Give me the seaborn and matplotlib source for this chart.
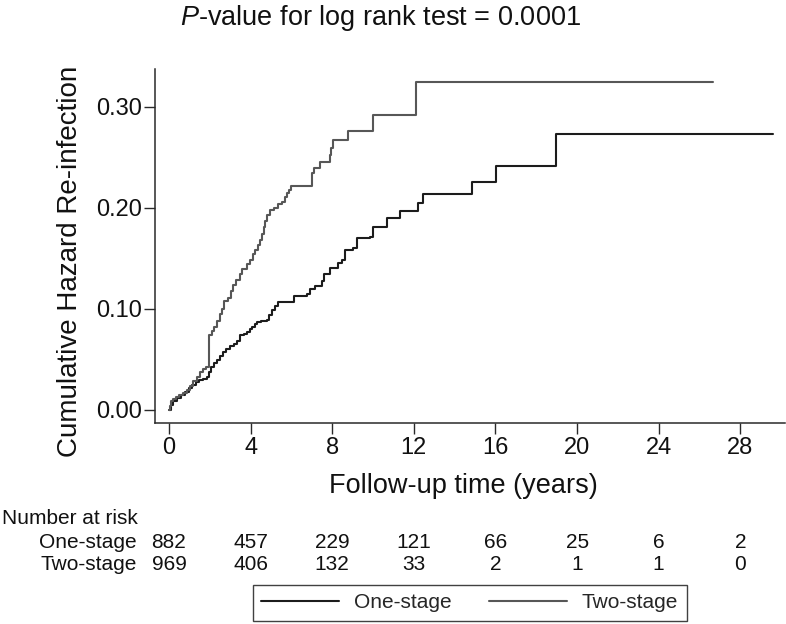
import numpy as np
import pandas as pd
import matplotlib
matplotlib.use("Agg")
import matplotlib.pyplot as plt
import matplotlib.transforms as mtransforms
from matplotlib.lines import Line2D
import seaborn as sns

# ---------------- data ----------------
one_t = [0.0, 0.08, 0.2, 0.4, 0.6, 0.8, 1.0, 1.15, 1.3, 1.45, 1.65, 1.85, 1.95,
         2.05, 2.2, 2.35, 2.5, 2.65, 2.8, 3.0, 3.2, 3.35, 3.48, 3.7, 3.8, 3.95,
         4.05, 4.2, 4.3, 4.5, 4.79, 4.9, 5.03, 5.2, 5.36, 6.14, 6.75, 6.9, 7.16,
         7.5, 7.6, 7.9, 8.3, 8.47, 8.63, 9.03, 9.2, 9.85, 9.98, 10.67, 11.32,
         12.22, 12.47, 14.84, 16.01, 18.96, 29.6]
one_h = [0.000, 0.005, 0.009, 0.012, 0.015, 0.018, 0.022, 0.025, 0.028, 0.030,
         0.031, 0.033, 0.038, 0.043, 0.046, 0.049, 0.053, 0.057, 0.060, 0.063,
         0.065, 0.068, 0.074, 0.075, 0.077, 0.080, 0.082, 0.085, 0.087, 0.088,
         0.089, 0.094, 0.099, 0.103, 0.107, 0.1126, 0.115, 0.120, 0.123, 0.128,
         0.135, 0.140, 0.145, 0.148, 0.158, 0.160, 0.170, 0.171, 0.181, 0.1896,
         0.1968, 0.2044, 0.2134, 0.2256, 0.241, 0.2734, 0.2734]

two_t = [0.0, 0.05, 0.10, 0.2, 0.35, 0.5, 0.7, 0.9, 1.05, 1.2, 1.35, 1.5, 1.65,
         1.8, 1.98, 2.1, 2.2, 2.35, 2.5, 2.6, 2.7, 2.9, 3.05, 3.15, 3.3, 3.48,
         3.6, 3.8, 3.95, 4.1, 4.2, 4.35, 4.46, 4.55, 4.65, 4.7, 4.8, 4.95, 5.15,
         5.36, 5.55, 5.7, 5.8, 5.9, 5.96, 7.03, 7.12, 7.40, 7.89, 7.95, 8.02,
         8.79, 10.01, 12.10, 26.65]
two_h = [0.000, 0.004, 0.009, 0.011, 0.013, 0.015, 0.017, 0.020, 0.024, 0.029,
         0.033, 0.038, 0.041, 0.043, 0.074, 0.078, 0.082, 0.088, 0.095, 0.100,
         0.108, 0.111, 0.118, 0.124, 0.129, 0.135, 0.139, 0.144, 0.148, 0.154,
         0.158, 0.163, 0.168, 0.174, 0.181, 0.187, 0.193, 0.198, 0.200, 0.204,
         0.206, 0.211, 0.215, 0.218, 0.2215, 0.234, 0.239, 0.245, 0.252, 0.259,
         0.267, 0.276, 0.2915, 0.3245, 0.3245]

groups = ["One-stage", "Two-stage"]
risk_times = [0, 4, 8, 12, 16, 20, 24, 28]
risk_one = [882, 457, 229, 121, 66, 25, 6, 2]
risk_two = [969, 406, 132, 33, 2, 1, 1, 0]
x_ticks = [0, 4, 8, 12, 16, 20, 24, 28]
y_ticks = [0.00, 0.10, 0.20, 0.30]
title = "$\\it{P}$-value for log rank test = 0.0001"
x_label = "Follow-up time (years)"
y_label = "Cumulative Hazard Re-infection"

# ---------------- style ----------------
sns.set_theme(style="ticks")
plt.rcParams["font.family"] = ["Liberation Sans", "DejaVu Sans"]
plt.rcParams["mathtext.fontset"] = "custom"
plt.rcParams["mathtext.rm"] = "Liberation Sans"
plt.rcParams["mathtext.it"] = "Liberation Sans:italic"

colors = {"One-stage": "#1c1c1c", "Two-stage": "#575757"}

df = pd.concat([
    pd.DataFrame({"time": one_t, "hazard": one_h, "group": groups[0]}),
    pd.DataFrame({"time": two_t, "hazard": two_h, "group": groups[1]}),
], ignore_index=True)

fig = plt.figure(figsize=(7.86, 6.24), dpi=100)
ax = fig.add_axes([0.1972, 0.3221, 0.8015, 0.5673])

for g in groups:
    sub = df[df["group"] == g]
    sns.lineplot(data=sub, x="time", y="hazard", ax=ax, color=colors[g],
                 drawstyle="steps-post", estimator=None, sort=False,
                 linewidth=1.5, legend=False)

ax.set_xlim(-0.686, 30.19)
ax.set_ylim(-0.0129, 0.3373)
ax.set_xticks(x_ticks)
ax.set_xticklabels([str(v) for v in x_ticks])
ax.set_yticks(y_ticks)
ax.set_yticklabels([f"{v:.2f}" for v in y_ticks])
sns.despine(ax=ax)
for s in ["left", "bottom"]:
    ax.spines[s].set_linewidth(1.1)
    ax.spines[s].set_color("#2a2a2a")
ax.tick_params(axis="both", length=8, width=1.0, color="#2a2a2a",
               labelsize=17, labelcolor="#111111")
ax.tick_params(axis="x", pad=2)
ax.tick_params(axis="y", pad=1.5)

ax.set_xlabel(x_label, fontsize=19.5, color="#111111")
ax.xaxis.set_label_coords(0.489, -0.14)
ax.set_ylabel(y_label, fontsize=20, color="#111111", va="center")
ax.yaxis.set_label_coords(-0.135, 0.458)

fig.text(381 / 786, 1 - 25 / 624, title, ha="center", va="baseline",
         fontsize=19.5, color="#111111")

# number at risk table
trans = mtransforms.blended_transform_factory(ax.transData, fig.transFigure)
fig.text(2 / 786, 1 - 518 / 624, "Number at risk", ha="left", va="center",
         fontsize=15, color="#111111")
row_y = [1 - 542 / 624, 1 - 565 / 624]
for g, vals, yy in zip(groups, [risk_one, risk_two], row_y):
    fig.text(137 / 786, yy, g, ha="right", va="center", fontsize=15,
             color="#111111")
    for t, v in zip(risk_times, vals):
        ax.text(t, yy, str(v), transform=trans, ha="center", va="center",
                fontsize=15, color="#111111")

handles = [Line2D([], [], color=colors[g], linewidth=1.5) for g in groups]
leg = fig.legend(handles, groups, loc="center",
                 bbox_to_anchor=(469.5 / 786, 1 - 603 / 624), ncol=2,
                 frameon=True, fancybox=False, edgecolor="#111111",
                 fontsize=15, handlelength=3.75, handletextpad=0.72,
                 columnspacing=1.78, borderpad=0.4, borderaxespad=0)
leg.get_frame().set_linewidth(1.0)

fig.savefig("out.png", dpi=100)
